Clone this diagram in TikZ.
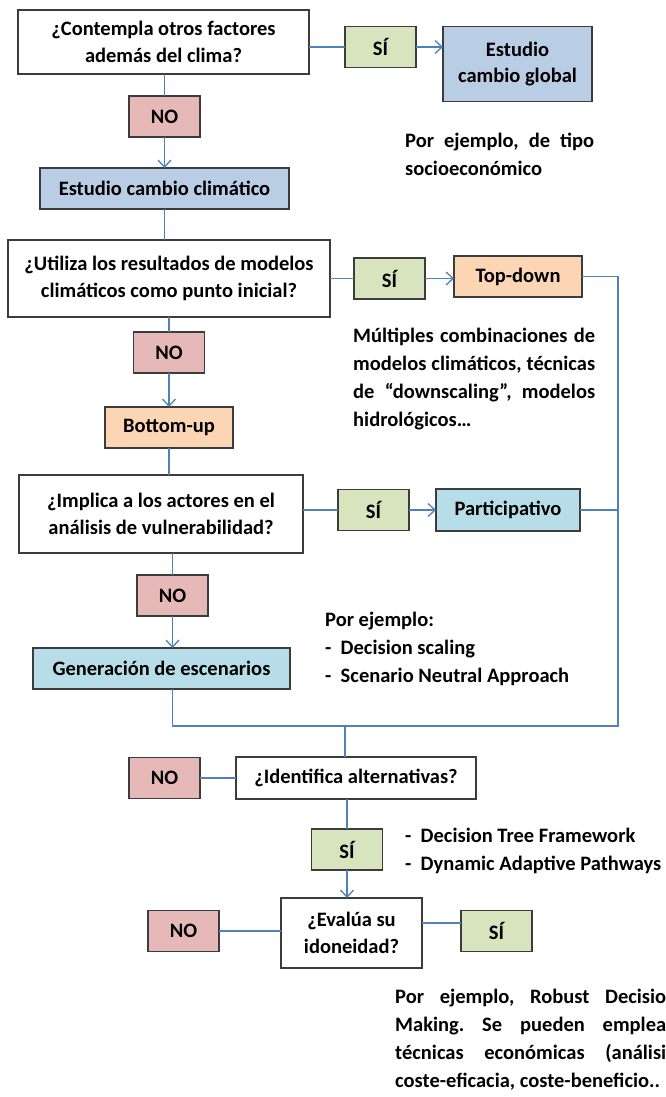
\documentclass[tikz,border=0pt]{standalone}
\usepackage{fontspec}
\setmainfont{Carlito}
\usetikzlibrary{positioning, arrows.meta}
\hyphenpenalty=10000
\exhyphenpenalty=10000
\frenchspacing

\definecolor{edgegray}{HTML}{3C3C3C}
\definecolor{wirecol}{HTML}{4F81BD}
\definecolor{nofill}{HTML}{E6B9B8}
\definecolor{sifill}{HTML}{D7E4BD}
\definecolor{bluefill}{HTML}{B9CDE5}
\definecolor{peach}{HTML}{FCD5B5}
\definecolor{cyanfill}{HTML}{B7DEE8}

\tikzset{
  box/.style={draw=edgegray, line width=1.3pt, outer sep=0pt, inner sep=0pt,
    align=center, font=\fontsize{20.5}{26.5}\selectfont\bfseries},
  ask/.style={box, fill=white},
  nobox/.style={box, fill=nofill, minimum width=71pt, minimum height=41pt},
  sibox/.style={box, fill=sifill, minimum width=71pt, minimum height=41pt},
  note/.style={inner sep=0pt, anchor=base west, font=\fontsize{20.5}{28}\selectfont\bfseries},
  wire/.style={draw=wirecol, line width=1.3pt},
  go/.style={wire, -{Straight Barb[length=7pt,width=13pt]}},
}

\begin{document}
\begin{tikzpicture}[x=1pt, y=-1pt]
  \useasboundingbox (0,0) rectangle (666,1097);

  % main column
  \node[ask, minimum width=291pt, minimum height=64pt] (q1) at (163.5,42)
    {¿Contempla otros factores\\además del clima?};
  \node[nobox, below=22pt of q1, xshift=1pt] (no1) {NO};
  \node[box, fill=bluefill, minimum width=249pt, minimum height=41pt,
    below=31pt of no1] (clima) {Estudio cambio climático};
  \node[ask, minimum width=322pt, minimum height=77pt, below=31pt of clima,
    xshift=4.5pt] (q2) {¿Utiliza los resultados de modelos\\climáticos como punto inicial?};
  \node[nobox, below=15pt of q2] (no2) {NO};
  \node[box, fill=peach, minimum width=128pt, minimum height=41pt,
    below=34pt of no2] (bottomup) {Bottom-up};
  \node[ask, minimum width=284pt, minimum height=78pt, below=27pt of bottomup,
    xshift=-8pt] (q3) {¿Implica a los actores en el\\análisis de vulnerabilidad?};
  \node[nobox, below=22pt of q3, xshift=11.5pt] (no3) {NO};
  \node[box, fill=cyanfill, minimum width=257pt, minimum height=41pt,
    below=32pt of no3, xshift=-11pt] (escen) {Generación de escenarios};

  % side branches
  \node[sibox, right=36pt of q1, yshift=-5pt] (si1) {SÍ};
  \node[box, fill=bluefill, minimum width=149pt, minimum height=75pt,
    right=27pt of si1.north east, anchor=north west] (global) {Estudio\\cambio global};
  \node[sibox, right=24pt of q2] (si2) {SÍ};
  \node[box, fill=peach, minimum width=128pt, minimum height=41pt,
    right=29pt of si2, yshift=2pt] (topdown) {Top-down};
  \node[sibox, right=35pt of q3, yshift=4pt] (si3) {SÍ};
  \node[box, fill=cyanfill, minimum width=144pt, minimum height=42pt,
    right=27pt of si3] (particip) {Participativo};

  % lower part
  \node[ask, minimum width=240pt, minimum height=42pt] (q4) at (356,778)
    {¿Identifica alternativas?};
  \node[nobox, left=36pt of q4] (no4) {NO};
  \node[sibox, below=30pt of q4, xshift=-9pt] (si4) {SÍ};
  \node[ask, minimum width=141pt, minimum height=70pt, below=28pt of si4,
    xshift=4.5pt] (q5) {¿Evalúa su\\idoneidad?};
  \node[nobox, left=62pt of q5, yshift=2pt] (no5) {NO};
  \node[sibox, right=39pt of q5, yshift=2pt] (si5) {SÍ};

  \coordinate[right=36pt of topdown] (rail);
  \coordinate (join) at (345,726);

  % connectors
  \draw[wire] (q1.south -| no1) -- (no1);
  \draw[go] (no1) -- (clima);
  \draw[wire] (clima) -- (clima |- q2.north);
  \draw[wire] (q2.south -| no2) -- (no2);
  \draw[go] (no2) -- (bottomup);
  \draw[wire] (bottomup) -- (bottomup |- q3.north);
  \draw[wire] (q3.south -| no3) -- (no3);
  \draw[go] (no3) -- (no3 |- escen.north);

  \draw[wire] (q1.east |- si1) -- (si1);
  \draw[go] (si1) -- (si1 -| global.west);
  \draw[wire] (q2) -- (si2);
  \draw[go] (si2) -- (si2 -| topdown.west);
  \draw[wire] (q3.east |- si3) -- (si3);
  \draw[go] (si3) -- (particip);

  \draw[wire] (topdown) -- (rail) |- (join);
  \draw[wire] (particip) -- (particip -| rail);
  \draw[wire] (escen.south -| no3) |- (join);
  \draw[wire] (join) -- (join |- q4.north);

  \draw[wire] (q4) -- (no4);
  \draw[wire] (q4.south -| si4) -- (si4);
  \draw[go] (si4) -- (si4 |- q5.north);
  \draw[wire] (q5.west |- no5) -- (no5);
  \draw[wire] ([yshift=10pt]q5.east) -- ([yshift=10pt]q5.east -| si5.west);

  % notes (base = last line when there is no text width)
  \node[note, text width=189pt, align=justify] (ej1) at (405,147)
    {Por ejemplo, de tipo socioeconómico};
  \node[note, text width=242pt, align=justify] (ej2) at (353,342)
    {Múltiples combinaciones de\linebreak modelos climáticos, técnicas\linebreak
     de “downscaling”, modelos\linebreak hidrológicos…};
  \node[note, align=left] (ej3) at (325,682)
    {Por ejemplo:\\- \ Decision scaling\\- \ Scenario Neutral Approach};
  \node[note, align=left] (ej4) at (405,870)
    {- \ Decision Tree Framework\\- \ Dynamic Adaptive Pathways};
  \node[note, text width=271pt, align=justify] (ej5) at (395,1003)
    {\parfillskip=0pt Por ejemplo, Robust Decisio\linebreak Making. Se pueden emplea\linebreak
     técnicas económicas (análisi\linebreak coste-eficacia, coste-beneficio..};
\end{tikzpicture}
\end{document}
